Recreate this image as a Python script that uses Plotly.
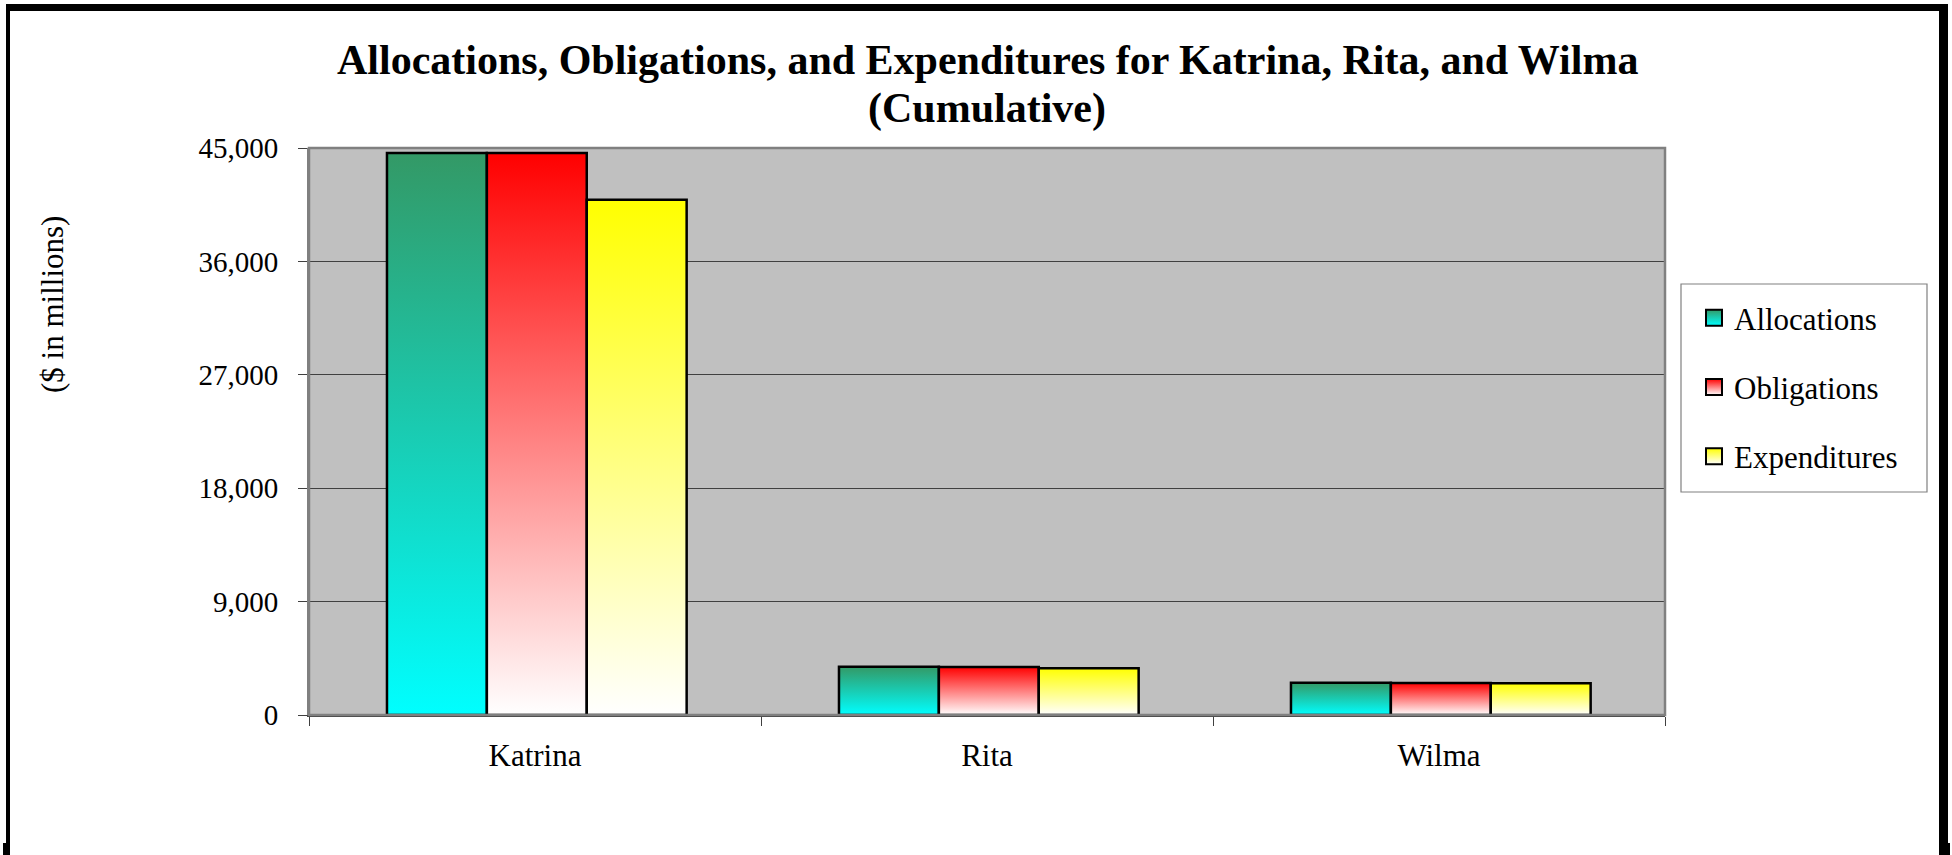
import plotly.graph_objects as go

# ---------------- data ----------------
categories = ["Katrina", "Rita", "Wilma"]
allocations = [44600, 3830, 2560]
obligations = [44600, 3810, 2540]
expenditures = [40900, 3710, 2520]

series_names = ["Allocations", "Obligations", "Expenditures"]
series_values = [allocations, obligations, expenditures]
# gradient colours: (bottom colour, top colour)
series_grad = [("#00FFFF", "#339966"), ("#FFFFFF", "#FF0000"), ("#FFFFFF", "#FFFF00")]

y_ticks = [0, 9000, 18000, 27000, 36000, 45000]

title_line1 = "Allocations, Obligations, and Expenditures for Katrina, Rita, and Wilma"
title_line2 = "(Cumulative)"
y_title = "($ in millions)"

FONT = "Times New Roman, Liberation Serif, serif"

# ---------------- geometry helpers (layout only) ----------------
W, H = 1952, 855
PL, PR, PT, PB = 309, 1665, 148, 715


def pxx(x):
    return (x - PL) / (PR - PL)


def pxy(y):
    return (PB - y) / (PB - PT)


bar_w = 0.221
group_shift = 0.004
offsets = [-bar_w, 0.0, bar_w]

fig = go.Figure()

for s, (name, vals, (c0, c1)) in enumerate(zip(series_names, series_values, series_grad)):
    for i, (cat, v) in enumerate(zip(categories, vals)):
        xc = i + group_shift + offsets[s]
        x0, x1 = xc - bar_w / 2, xc + bar_w / 2
        fig.add_trace(go.Scatter(
            x=[x0, x0, x1, x1, x0],
            y=[0, v, v, 0, 0],
            mode="lines",
            fill="toself",
            fillgradient=dict(type="vertical", colorscale=[[0, c0], [1, c1]]),
            line=dict(color="black", width=2.5),
            name=name,
            legendgroup=name,
            showlegend=False,
            hoveron="fills",
            text=f"{cat}<br>{name}: {v:,}",
            hoverinfo="text",
        ))
    # legend entry
    fig.add_trace(go.Scatter(
        x=[None], y=[None], mode="markers", name=name, legendgroup=name,
        marker=dict(symbol="square", size=16, color=c1,
                    gradient=dict(type="vertical", color=c0),
                    line=dict(color="black", width=2)),
        showlegend=True,
    ))

shapes = [
    # plot area border
    dict(type="rect", xref="paper", yref="paper", x0=0, x1=1, y0=0, y1=1,
         line=dict(color="#808080", width=2.5), layer="above"),
    # legend box
    dict(type="rect", xref="paper", yref="paper",
         x0=pxx(1681), x1=pxx(1927), y0=pxy(492), y1=pxy(284),
         fillcolor="white", line=dict(color="#808080", width=1.2), layer="above"),
]
black_rects = [
    (6, 4, 1948, 11),
    (6, 4, 10, 855),
    (1939, 4, 1948, 855),
    (3, 843, 10, 855),
    (1939, 843, 1950, 855),
]
for (ax0, ay0, ax1, ay1) in black_rects:
    shapes.append(dict(type="rect", xref="paper", yref="paper",
                       x0=pxx(ax0), x1=pxx(ax1), y0=pxy(ay1), y1=pxy(ay0),
                       fillcolor="black", line=dict(width=0), layer="above"))

fig.update_layout(
    width=W, height=H,
    margin=dict(l=PL, r=W - PR, t=PT, b=H - PB, pad=0),
    paper_bgcolor="white",
    plot_bgcolor="#C0C0C0",
    font=dict(family=FONT, size=29, color="black"),
    xaxis=dict(
        type="linear", range=[-0.5, 2.5],
        tickmode="array", tickvals=[0, 1, 2], ticktext=categories,
        tickfont=dict(family=FONT, size=31, color="black"),
        ticks="", showgrid=False, zeroline=False,
        showline=True, linecolor="#404040", linewidth=1.5,
        ticklabelstandoff=12,
        minor=dict(tickmode="array", tickvals=[-0.5, 0.5, 1.5, 2.5], ticks="outside",
                   ticklen=9, tickcolor="#404040", tickwidth=1, showgrid=False),
        fixedrange=True,
    ),
    yaxis=dict(
        range=[0, 45000], tickmode="array", tickvals=y_ticks,
        tickformat=",", ticks="outside", ticklen=9, tickcolor="#404040",
        tickfont=dict(family=FONT, size=29, color="black"),
        showgrid=True, gridcolor="#404040", gridwidth=1,
        showline=True, linecolor="#808080", linewidth=2, zeroline=False,
        ticklabelstandoff=14,
        fixedrange=True,
    ),
    legend=dict(
        x=pxx(1694), y=pxy(291), xanchor="left", yanchor="top",
        borderwidth=0, bgcolor="rgba(0,0,0,0)",
        font=dict(family=FONT, size=31, color="black"),
        tracegroupgap=26,
    ),
    shapes=shapes,
    annotations=[
        dict(text=f"<b>{title_line1}</b>", showarrow=False,
             xref="paper", yref="paper", x=0.5, y=pxy(60),
             xanchor="center", yanchor="middle",
             font=dict(family=FONT, size=42, color="black")),
        dict(text=f"<b>{title_line2}</b>", showarrow=False,
             xref="paper", yref="paper", x=0.5, y=pxy(108),
             xanchor="center", yanchor="middle",
             font=dict(family=FONT, size=42, color="black")),
        dict(text=y_title, textangle=-90, showarrow=False,
             xref="paper", yref="paper", x=pxx(52), y=pxy(305),
             xanchor="center", yanchor="middle",
             font=dict(family=FONT, size=31, color="black")),
    ],
)

fig.write_html("out.html", config={"displayModeBar": False},
               post_script="document.body.style.margin='0px';")
